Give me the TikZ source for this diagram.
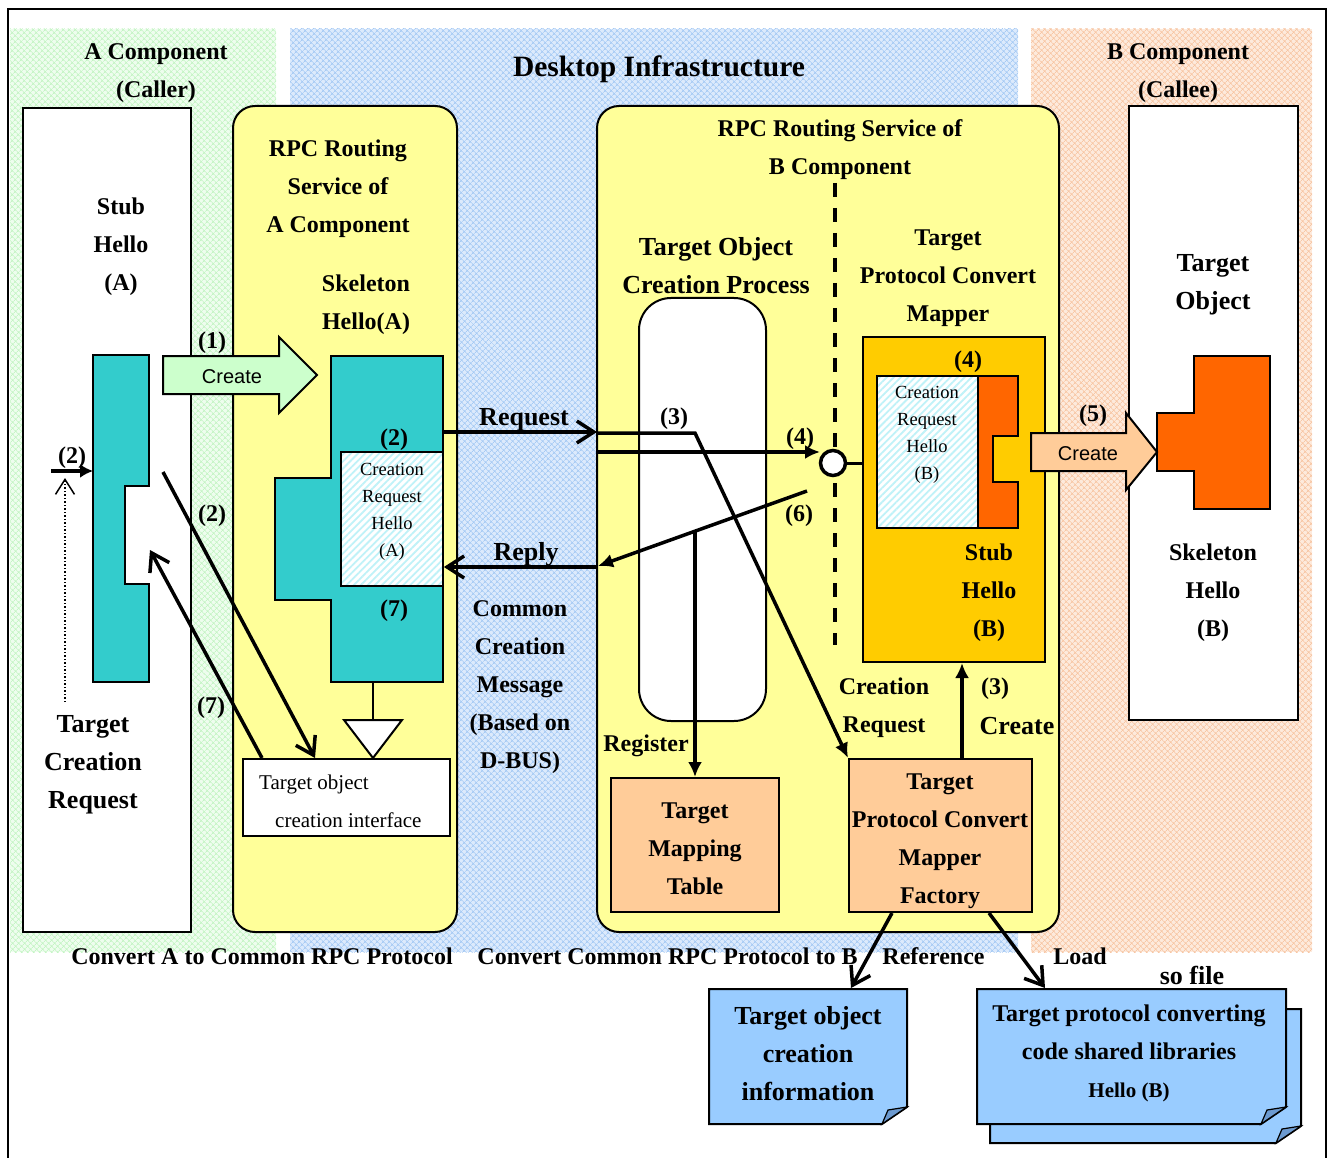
\documentclass[tikz,border=0pt]{standalone}
\usepackage{fontspec}
\setmainfont{Liberation Serif}
\newfontfamily\arialfont{Liberation Sans}
\usetikzlibrary{arrows.meta,patterns.meta}

\definecolor{cteal}{HTML}{33CCCC}
\definecolor{cyellow}{HTML}{FFFF99}
\definecolor{cmint}{HTML}{CCFFCC}
\definecolor{cpeach}{HTML}{FFCC99}
\definecolor{cgold}{HTML}{FFCC00}
\definecolor{corange}{HTML}{FF6600}
\definecolor{cnote}{HTML}{99CCFF}
\definecolor{cfold}{HTML}{6C9AD0}
\definecolor{hatchcyan}{HTML}{BFF2F8}
\definecolor{bggreen}{HTML}{EEFDEE}
\definecolor{bggreenln}{HTML}{C4F4C4}
\definecolor{bgblue}{HTML}{DCEAFC}
\definecolor{bgblueln}{HTML}{A6CAF4}
\definecolor{bgorange}{HTML}{FDEADC}
\definecolor{bgorangeln}{HTML}{F7C6A4}

\tikzset{
  lbl/.style={font=\fontsize{24}{38}\selectfont\bfseries, inner sep=0pt, align=center, yshift=-2.5pt},
  lblbig/.style={font=\fontsize{26}{38}\selectfont\bfseries, inner sep=0pt, align=center, yshift=-2.5pt},
  lblsmall/.style={font=\fontsize{18.5}{27}\selectfont, inner sep=0pt, align=center, yshift=-2pt},
  lblplain/.style={font=\fontsize{21}{38}\selectfont, inner sep=0pt, align=left},
  lblsans/.style={font=\arialfont\fontsize{20}{24}\selectfont, inner sep=0pt, yshift=-1pt},
  outline/.style={draw, line width=2pt},
  panel/.style={outline, fill=white, inner sep=0pt},
  service/.style={outline, fill=cyellow, rounded corners=22pt, inner sep=0pt},
  tablebox/.style={outline, fill=cpeach, inner sep=0pt},
  hatched/.style={outline, preaction={fill=white},
    pattern={Lines[angle=45,distance=5pt,line width=1.8pt]}, pattern color=hatchcyan, inner sep=0pt},
  wire/.style={line width=3.5pt},
  barb/.style={wire, -{Straight Barb[length=17pt,width=22pt]}},
  solidtip/.style={wire, -{Latex[length=15pt,width=14pt]}},
  zone/.style={pattern={Hatch[angle=45,distance=4pt,line width=0.8pt]}},
}

% folded sheet of paper, corner curled at the bottom right
\newcommand\notesheet[4]{%
  \draw[outline, fill=cnote] (#1,#2) -- (#3,#2) -- (#3,#4-17) -- (#3-25,#4) -- (#1,#4) -- cycle;
  \draw[line width=1.2pt, fill=cfold] (#3,#4-17) -- (#3-19,#4-14) -- (#3-25,#4) -- cycle;
}

\begin{document}
\begin{tikzpicture}[x=1pt,y=-1pt]
\useasboundingbox (0,0) rectangle (1333,1158);

% frame
\draw[line width=2pt] (8,1160) -- (8,9) -- (1326,9) -- (1326,1160);

% three zones
\fill[bggreen] (10,29) rectangle (276,952);
\fill[zone, pattern color=bggreenln] (10,29) rectangle (276,952);
\fill[bgblue] (290,29) rectangle (1018,952);
\fill[zone, pattern color=bgblueln] (290,29) rectangle (1018,952);
\fill[bgorange] (1031,29) rectangle (1312,952);
\fill[zone, pattern color=bgorangeln] (1031,29) rectangle (1312,952);

\node[lbl] (hA) at (156,71) {A Component\\(Caller)};
\node[lbl, font=\fontsize{29.5}{38}\selectfont\bfseries] (hD) at (659,67) {Desktop Infrastructure};
\node[lbl] (hB) at (1178,71) {B Component\\(Callee)};

% ---------- A component (caller) ----------
\node[panel, minimum width=168pt, minimum height=824pt] (colA) at (107,520) {};
\node[lbl] (stubAtxt) at (121,244) {Stub\\Hello\\(A)};
\node[lblbig] (tcr) at (93,762) {Target\\Creation\\Request};
\draw[outline, fill=cteal] (93,355) -- (149,355) -- (149,486) -- (125,486) -- (125,584)
  -- (149,584) -- (149,682) -- (93,682) -- cycle;
\coordinate (stubAin) at (93,471);
\coordinate (reqsrc) at (51,471);
\draw[line width=4pt, -{Latex[length=13pt,width=14pt]}] (reqsrc) -- (stubAin);
\node[lbl] (lab2a) at (72,455) {(2)};
\coordinate (trigbase) at (65,702);
\coordinate (trigtip) at (65,478);
\draw[line width=1.5pt, dash pattern=on 1.5pt off 2pt, -{Straight Barb[length=15pt,width=19pt]}] (trigbase) -- (trigtip);

% ---------- RPC routing service of A ----------
\node[service, minimum width=224pt, minimum height=826pt] (svcA) at (345,519) {};
\node[lbl] (rpcA) at (338,186) {RPC Routing\\Service of\\A Component};
\node[lbl] (skelAtxt) at (366,302) {Skeleton\\Hello(A)};

% create arrow (1)
\draw[outline, fill=cmint] (163,356) -- (279,356) -- (279,337) -- (317,375) -- (279,413)
  -- (279,394) -- (163,394) -- cycle;
\node[lblsans] (create1) at (232,376) {Create};
\node[lbl] (lab1) at (212,340) {(1)};

\draw[outline, fill=cteal] (331,356) -- (443,356) -- (443,682) -- (331,682) -- (331,600)
  -- (275,600) -- (275,478) -- (331,478) -- cycle;
\node[hatched, minimum width=102pt, minimum height=134pt] (hatA) at (392,519) {};
\node[lblsmall] (hatAtxt) at (392,510) {Creation\\Request\\Hello\\(A)};
\node[lbl] (lab2b) at (394,437) {(2)};
\node[lbl] (lab7b) at (394,608) {(7)};

\node[panel, minimum width=207pt, minimum height=77pt] (iface) at (346.5,797.5) {};
\node[lblplain, anchor=west] (ifacetxt) at (259,801.5)
  {Target object\\\hspace*{16pt}creation interface};
\coordinate (stem) at (373,682);
\coordinate (triTop) at (373,720);
\draw[line width=2pt] (stem) -- (triTop);
\draw[outline, fill=white] (344,720) -- (402,720) -- (iface.north -| triTop) -- cycle;

\coordinate (call2) at (163,472);
\coordinate (back7) at (150,550);
\draw[barb] (call2) -- (iface.north -| 315,0);
\draw[barb] (iface.north -| 262,0) -- (back7);
\node[lbl] (lab2c) at (212,513) {(2)};
\node[lbl] (lab7c) at (211,705) {(7)};

% ---------- D-BUS messages ----------
\coordinate (reqA) at (443,432);
\draw[barb] (reqA) -- (597,432);
\node[lblbig] (req) at (524,417) {Request};
\node[lblbig] (reply) at (526,552) {Reply};
\node[lbl] (common) at (520,685) {Common\\Creation\\Message\\(Based on\\D-BUS)};

% ---------- RPC routing service of B ----------
\node[service, minimum width=462pt, minimum height=826pt] (svcB) at (828,519) {};
\node[lbl] (rpcB) at (840,147) {RPC Routing Service of\\B Component};
\draw[wire, dash pattern=on 14pt off 11pt] (835,183) -- (835,645);
\node[lblbig] (tocp) at (716,263.5) {Target Object\\Creation Process};
\node[lbl] (tpcm) at (948,276) {Target\\Protocol Convert\\Mapper};
\node[panel, rounded corners=32pt, minimum width=127pt, minimum height=423pt] (proc) at (702.5,509.5) {};

\node[outline, fill=cgold, inner sep=0pt, minimum width=182pt, minimum height=325pt] (gold) at (954,499.5) {};
\node[hatched, minimum width=101pt, minimum height=152pt] (hatB) at (927.5,452) {};
\node[lblsmall] (hatBtxt) at (927,433) {Creation\\Request\\Hello\\(B)};
\draw[outline, fill=corange] (978,376) -- (1018,376) -- (1018,436) -- (993,436) -- (993,482)
  -- (1018,482) -- (1018,528) -- (978,528) -- cycle;
\node[lbl] (lab4b) at (968,359) {(4)};
\node[lbl] (stubBtxt) at (989,590) {Stub\\Hello\\(B)};

\node[tablebox, minimum width=168pt, minimum height=134pt] (maptab) at (695,845) {};
\node[lbl] (maptabtxt) at (695,846.5) {Target\\Mapping\\Table};
\node[tablebox, minimum width=183pt, minimum height=153pt] (factory) at (940.5,835.5) {};
\node[lbl] (factorytxt) at (940,838.5) {Target\\Protocol Convert\\Mapper\\Factory};

% request path (3) to the factory
\coordinate (bend3) at (695,433);
\draw[solidtip] (svcB.west |- bend3) -- (bend3) -- (factory.north west);
\node[lbl] (lab3a) at (674,416) {(3)};

% request path (4) to the mapper port
\node[circle, draw, line width=3.5pt, fill=white, minimum size=25pt, inner sep=0pt] (port) at (833,463) {};
\coordinate (p4) at (820,452);
\draw[solidtip] (svcB.west |- p4) -- (p4);
\draw[line width=3pt] (port.east) -- (gold.west |- port);
\node[lbl] (lab4a) at (800,436) {(4)};

% reply path (6)
\coordinate (r6) at (807,491);
\coordinate (r6end) at (598,566);
\draw[solidtip] (r6) -- (r6end);
\draw[barb] (svcB.west |- 0,567) -- (hatA.east |- 0,567);
\node[lbl] (lab6) at (799,513) {(6)};

% register
\coordinate (regsrc) at (695,531);
\draw[solidtip] (regsrc) -- (maptab.north);
\node[lbl] (register) at (646,743) {Register};

% create (3)
\draw[solidtip] (factory.north -| 962,0) -- (gold.south -| 962,0);
\node[lbl] (creq) at (884,705) {Creation\\Request};
\node[lbl] (lab3b) at (995,686) {(3)};
\node[lblbig] (create3) at (1017,724) {Create};

% ---------- B component (callee) ----------
\node[panel, minimum width=169pt, minimum height=614pt] (colB) at (1213.5,413) {};
\node[lblbig] (tobj) at (1213,282) {Target\\Object};
\draw[outline, fill=corange] (1194,356) -- (1270,356) -- (1270,509) -- (1194,509) -- (1194,471)
  -- (1157,471) -- (1157,413) -- (1194,413) -- cycle;
\node[lbl] (skelBtxt) at (1213,590) {Skeleton\\Hello\\(B)};

% create arrow (5)
\draw[outline, fill=cpeach] (1031,433) -- (1126,433) -- (1126,413) -- (1157,452) -- (1126,490)
  -- (1126,471) -- (1031,471) -- cycle;
\node[lblsans] (create5) at (1088,453) {Create};
\node[lbl] (lab5) at (1093,413) {(5)};

% ---------- bottom captions ----------
\node[lbl] (convA) at (262,954) {Convert A to Common RPC Protocol};
\node[lbl] (convB) at (667.5,954) {Convert Common RPC Protocol to B};
\node[lbl] (refl) at (933.5,954) {Reference};
\node[lbl] (loadl) at (1080,954) {Load};
\node[lblbig] (sofile) at (1192,973) {so file};

% ---------- files ----------
\notesheet{709}{989}{907}{1124}
\notesheet{990}{1009}{1301}{1143}
\notesheet{977}{989}{1286}{1124}
\node[lblbig] (info) at (808,1051) {Target object\\creation\\information};
\node[lbl] (solib) at (1129,1051)
  {Target protocol converting\\code shared libraries\\{\fontsize{21}{38}\selectfont Hello (B)}};
\coordinate (infoTop) at (851,988);
\coordinate (soTop) at (1045,988);
\draw[barb] (factory.south -| 892,0) -- (infoTop);
\draw[barb] (factory.south -| 989,0) -- (soTop);

\end{tikzpicture}
\end{document}
